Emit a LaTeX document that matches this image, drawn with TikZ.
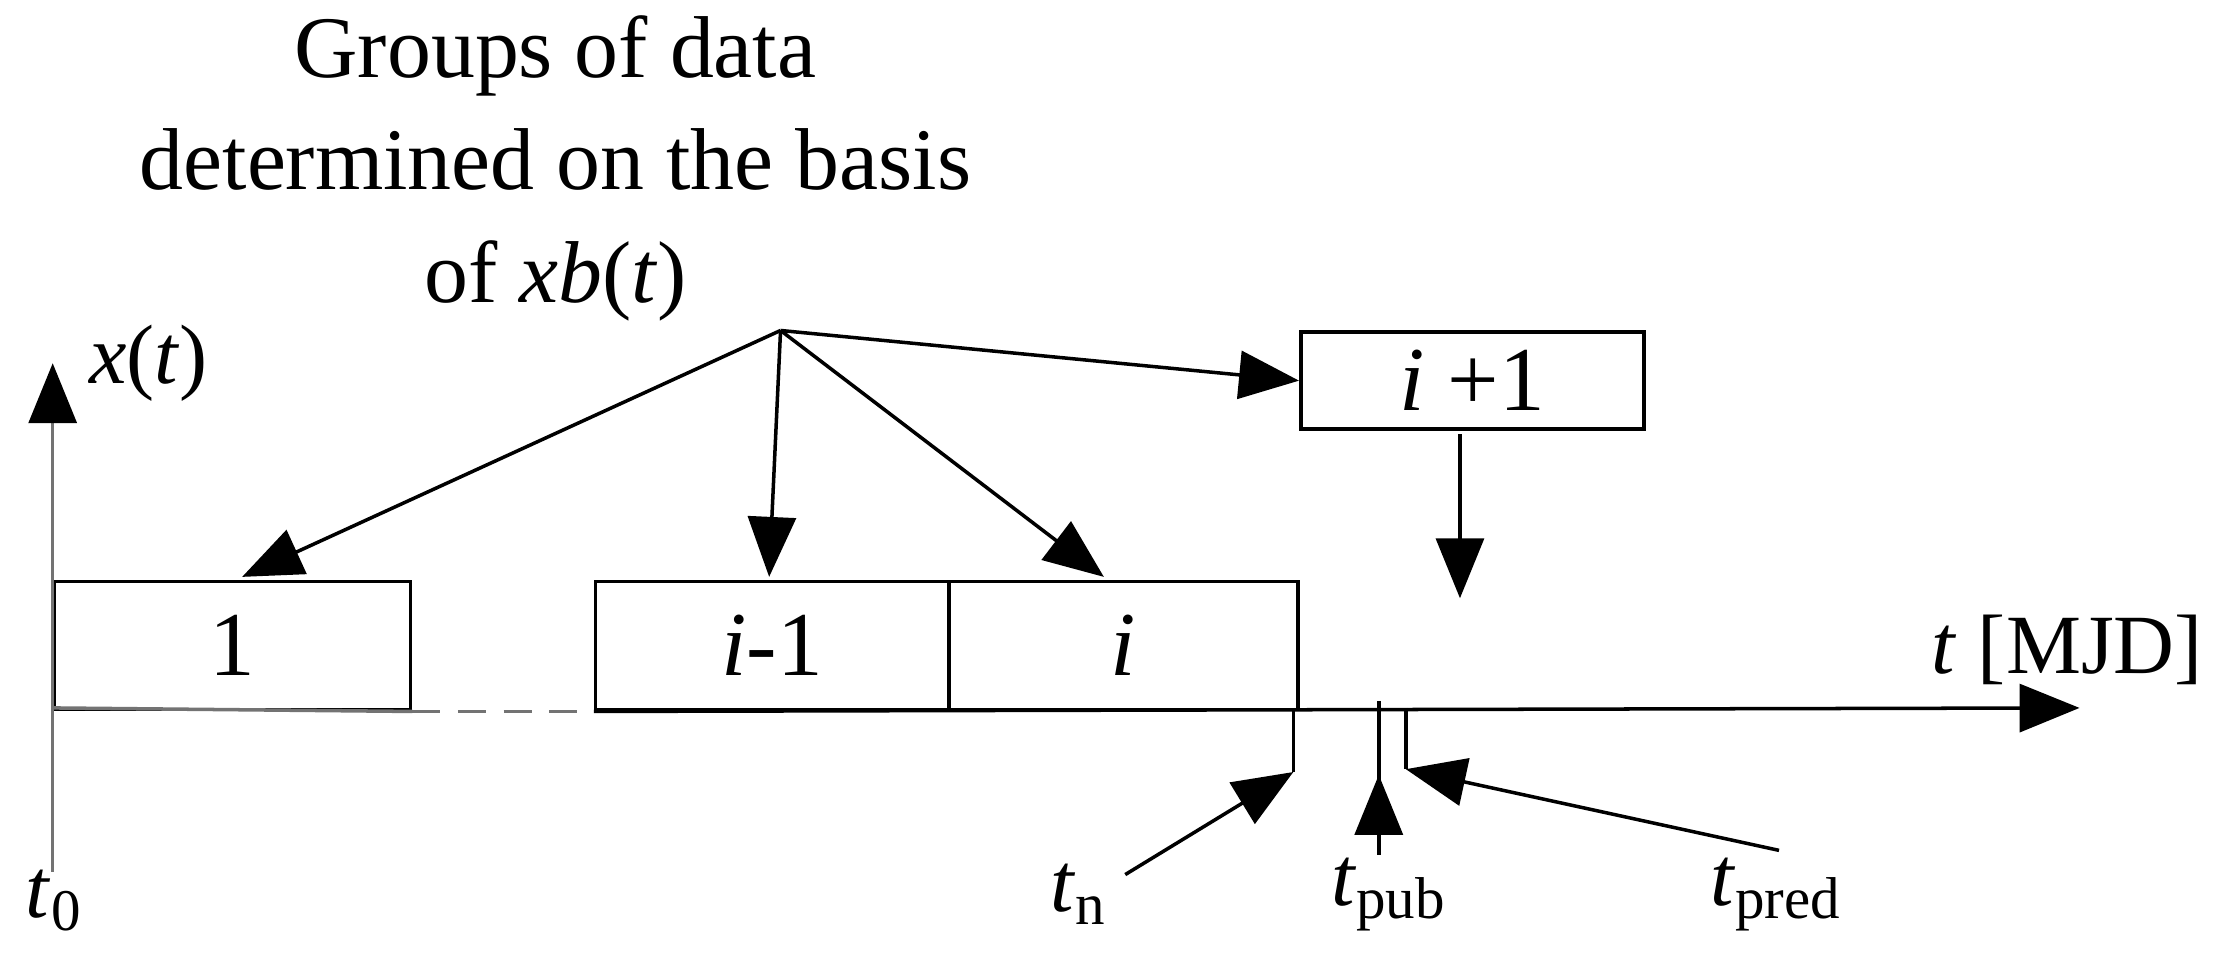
\documentclass[tikz,border=0pt]{standalone}
\usepackage{fontspec}
\setmainfont{Liberation Serif}
\usetikzlibrary{arrows.meta}
\begin{document}
\begin{tikzpicture}[x=0.01425cm,y=-0.01425cm,
  ar/.style={-{Triangle[length=0.6cm,width=0.48cm,color=black]},line width=1pt},
  box/.style={draw,line width=1pt,minimum height=90*0.01425cm,inner sep=0pt,font=\fontsize{26}{30}\selectfont},
  lab/.style={font=\fontsize{24}{28}\selectfont,inner sep=0pt}]
\useasboundingbox (0,0) rectangle (1560,681);
\node[lab,align=center,font=\fontsize{25}{32}\selectfont] (title) at (390,118) {Groups of data\\determined on the basis\\of \textit{xb}(\textit{t})};
\coordinate (src) at (548,232);
\node[box,minimum width=250*0.01425cm,anchor=north west] (b1) at (37,407) {1};
\node[box,minimum width=248*0.01425cm,anchor=north west] (bim) at (417,407) {\textit{i}-1};
\node[box,minimum width=245*0.01425cm,anchor=north west] (bi) at (665,407) {\textit{i}};
\node[box,minimum width=241*0.01425cm,minimum height=68*0.01425cm,anchor=north west] (bip) at (912,232) {\textit{i} +1};
\coordinate (o) at (37,497);
\coordinate (ytop) at (37,255);
\coordinate (ybot) at (37,612);
\coordinate (xend) at (1460,497);
\draw[ar,draw=black!55] (ybot) -- (ytop);
\draw[line width=1pt,draw=black!55] (o) -- (b1.south east);
\draw[line width=1pt,draw=black!55,dash pattern=on 8pt off 5pt] (b1.south east) -- (bim.south west);
\draw[ar] (bim.south west) -- (xend);
\node[lab,anchor=south west] (xl) at (62,282) {\textit{x}(\textit{t})};
\node[lab,anchor=east] (tl) at (1547,456) {\textit{t} [MJD]};
\draw[ar] (src) -- (170,405);
\draw[ar] (src) -- (540,405);
\draw[ar] (src) -- (775,405);
\draw[ar] (src) -- (bip.west);
\coordinate (ipa) at (1025,305);
\coordinate (ipb) at (1025,420);
\draw[ar] (ipa) -- (ipb);
% markers
\coordinate (tn0) at (908,497); \coordinate (tn1) at (908,542);
\coordinate (tp0) at (968,492); \coordinate (tp1) at (968,600);
\coordinate (tq0) at (987,497); \coordinate (tq1) at (987,540);
\draw[line width=1pt] (tn0) -- (tn1);
\draw[line width=1pt] (tq0) -- (tq1);
\draw[line width=1pt] (tp0) -- (tp1);
\draw[ar] (tp1) -- (968,544);
\node[lab] (t0) at (38,632) {\textit{t}\textsubscript{0}};
\node[lab] (tn) at (757,628) {\textit{t}\textsubscript{n}};
\node[lab] (tpub) at (975,628) {\textit{t}\textsubscript{pub}};
\node[lab] (tpred) at (1247,628) {\textit{t}\textsubscript{pred}};
\draw[ar] (790,614) -- (tn1);
\draw[ar] (1249,597) -- (tq1);
\end{tikzpicture}
\end{document}
